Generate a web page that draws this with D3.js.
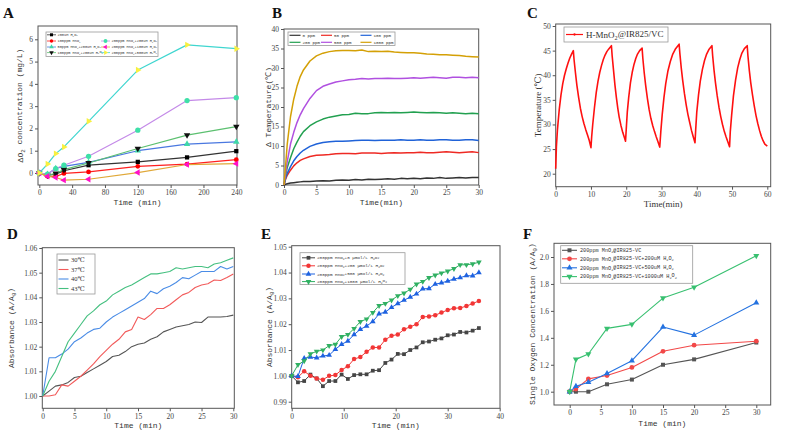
<!DOCTYPE html>
<html><head><meta charset="utf-8">
<script src="https://cdn.jsdelivr.net/npm/d3@7/dist/d3.min.js"></script>
<style>body{margin:0;background:#fff}</style>
</head><body>
<svg id="c" width="803" height="432" xmlns="http://www.w3.org/2000/svg"></svg>
<script>
// ---------- Panel A data ----------
const aTime = [0, 10, 20, 30, 60, 120, 180, 240];
const aH2O2 = [0, -0.1, -0.05, 0.1, 0.35, 0.5, 0.7, 0.98];
const aMn100 = [0, -0.15, -0.15, -0.02, 0.05, 0.3, 0.4, 0.6];
const aMn50H200 = [0, -0.05, 0.2, 0.3, 0.48, 1.0, 1.3, 1.4];
const aMn100H200 = [0, -0.1, -0.02, 0.15, 0.45, 1.1, 1.7, 2.08];
const aMn200H200 = [0, -0.05, 0.2, 0.35, 0.75, 1.92, 3.25, 3.38];
const aMn200H100 = [0, -0.15, -0.2, -0.32, -0.28, 0.02, 0.38, 0.42];
const aMn200H500 = [0, 0.4, 0.87, 1.17, 2.32, 4.62, 5.75, 5.58];
const aNames = ["200uM H_{2}O_{2}", "100ppm MnO_{2}", "50ppm MnO_{2}+200uM H_{2}O_{2}", "100ppm MnO_{2}+200uM H_{2}O_{2}",
  "200ppm MnO_{2}+200uM H_{2}O_{2}", "200ppm MnO_{2}+100uM H_{2}O_{2}", "200ppm MnO_{2}+500uM H_{2}O_{2}"];
const aXTicks = [0, 40, 80, 120, 160, 200, 240];
const aYTicks = [0, 1, 2, 3, 4, 5, 6];

// ---------- Panel B data ----------
const bTime = [0,0.25,0.5,1,1.5,2,2.5,3,4,5,6,7,8,9,10,11,12,13,14,15,16,17,18,19,20,21,22,23,24,25,26,27,28,29,30];
const b1000 = [0,5,10.5,17.5,22,25.3,27.8,29.5,31.8,33.1,33.8,34.2,34.4,34.5,34.5,34.4,34.6,34.2,34.3,34.2,34.3,34.1,34.0,33.9,33.9,33.8,33.6,33.5,33.4,33.4,33.3,33.2,33.0,32.9,32.8];
const b500 = [0,3,6,10.5,13.5,16,18,19.6,22.2,24.2,25.3,25.9,26.4,26.7,27.0,27.1,27.3,27.2,27.3,27.3,27.4,27.3,27.3,27.4,27.5,27.4,27.5,27.6,27.5,27.4,27.6,27.6,27.5,27.6,27.5];
const b200 = [0,2.5,4.5,7,9.3,11,12.5,13.7,15.2,16.2,16.9,17.4,17.7,18.0,18.1,18.4,18.3,18.3,18.5,18.6,18.5,18.6,18.5,18.6,18.7,18.6,18.5,18.6,18.5,18.4,18.5,18.4,18.3,18.4,18.3];
const b100 = [0,1.8,3,4.7,6.2,7.3,8.2,8.9,9.9,10.5,10.9,11.1,11.2,11.2,11.3,11.4,11.5,11.5,11.4,11.5,11.5,11.5,11.6,11.5,11.5,11.6,11.5,11.5,11.6,11.6,11.5,11.5,11.6,11.6,11.4];
const b50 = [0,1.5,2.5,3.8,4.9,5.7,6.3,6.7,7.3,7.6,7.7,7.8,8.0,8.1,8.1,8.0,8.2,8.2,8.2,8.1,8.2,8.3,8.2,8.3,8.3,8.4,8.3,8.3,8.4,8.5,8.4,8.3,8.4,8.5,8.3];
const b0 = [0,0.2,0.3,0.5,0.6,0.7,0.8,0.9,0.9,1.0,1.1,1.0,1.2,1.3,1.2,1.4,1.3,1.5,1.4,1.5,1.6,1.5,1.7,1.6,1.7,1.6,1.8,1.7,1.9,1.7,1.8,1.9,1.8,1.9,1.9];
const bNames = ["0 ppm", "50 ppm", "100 ppm", "200 ppm", "500 ppm", "1000 ppm"];
const bXTicks = [0, 5, 10, 15, 20, 25, 30];
const bYTicks = [0, 5, 10, 15, 20, 25, 30, 35, 40];

// ---------- Panel C data ----------
const cTime = [0,0.2,0.5,1,1.5,2,2.5,3,3.5,4,4.5,5,5.2,5.6,6,6.5,7,7.5,8,8.5,9,9.5,10,
  10.2,10.5,11,11.5,12,12.5,13,13.5,14,14.5,15,15.8,16,16.4,16.8,17.2,17.6,18,18.5,19,19.5,19.8,
  20,20.3,20.7,21.2,21.7,22.2,22.7,23.2,23.8,24.5,24.7,25.1,25.5,26,26.5,27,27.5,28,28.5,29,29.5,
  29.8,30.2,30.7,31.2,31.8,32.5,33.2,34,35,35.2,35.6,36,36.5,37,37.5,38,38.5,39,39.5,
  39.7,40,40.5,41,41.6,42.2,42.8,43.5,44.3,44.5,44.9,45.3,45.8,46.3,46.8,47.3,47.8,48.3,48.8,49.3,
  49.5,49.9,50.4,51,51.6,52.2,52.8,53.5,54.3,54.5,54.9,55.3,55.8,56.3,56.8,57.3,57.8,58.3,58.8,59.3,60];
const cTemp = [21,25.5,29,33,36,38.3,40,41.3,42.5,43.5,44.3,45,43.2,40.5,38,35.5,33.3,31.6,30.2,29,27.9,26.8,25.3,
  27.5,30,33.5,36.5,38.8,40.6,42,43.2,44.1,44.8,45.3,46,44,41,38,35.5,33.3,31.5,29.8,28.4,27.3,26.6,
  29,32.5,35.5,38.5,40.6,42.2,43.4,44.3,45,45.5,43.5,40.5,38,35.3,33,31.2,29.8,28.6,27.5,26.5,25.4,
  28.5,32,35.5,38.3,40.8,42.8,44.3,45.4,46.3,44.5,41.5,39,36.3,34,32,30.4,28.8,27.5,26.3,
  29,32.5,36,38.8,41.2,43,44.3,45.3,46,44,41,38.5,35.8,33.5,31.6,30,28.6,27.5,26.5,25.5,
  28.5,32,35.8,39,41.5,43.2,44.5,45.4,46,44,41,38.5,36,33.8,31.8,30.2,28.8,27.6,26.7,26,25.6];
const cName = "H-MnO_{2}@IR825/VC";
const cXTicks = [0, 10, 20, 30, 40, 50, 60];
const cYTicks = [20, 25, 30, 35, 40, 45, 50];

// ---------- Panel D data ----------
const dTime = [0,1,2,3,4,5,6,7,8,9,10,11,12,13,14,15,16,17,18,19,20,21,22,23,24,25,26,27,28,29,30];
const d30 = [1.000,1.002,1.004,1.0045,1.0055,1.0075,1.008,1.0095,1.011,1.0125,1.014,1.016,1.0165,1.018,1.020,1.021,1.0215,1.023,1.024,1.026,1.027,1.028,1.0285,1.029,1.030,1.0298,1.032,1.032,1.032,1.0322,1.0328];
const d37 = [1.000,1.000,1.0005,1.0045,1.004,1.006,1.008,1.0105,1.013,1.016,1.0185,1.021,1.023,1.026,1.027,1.032,1.031,1.033,1.0355,1.0355,1.037,1.039,1.041,1.042,1.044,1.045,1.0455,1.047,1.0468,1.048,1.0495];
const d40 = [1.000,1.0155,1.0155,1.017,1.019,1.022,1.0235,1.0255,1.027,1.0275,1.030,1.032,1.0335,1.035,1.0365,1.038,1.0395,1.0425,1.0415,1.0435,1.0445,1.046,1.048,1.0475,1.049,1.0505,1.0505,1.0505,1.0525,1.0515,1.0525];
const d43 = [1.000,1.006,1.010,1.016,1.022,1.0255,1.029,1.0325,1.0345,1.037,1.0385,1.041,1.0425,1.044,1.045,1.0465,1.048,1.0495,1.0495,1.050,1.0505,1.052,1.0515,1.052,1.0525,1.0525,1.052,1.0535,1.054,1.055,1.056];
const dNames = ["30℃", "37℃", "40℃", "43℃"];
const dXTicks = [0, 5, 10, 15, 20, 25, 30];
const dYTicks = [1.00, 1.01, 1.02, 1.03, 1.04, 1.05, 1.06];

// ---------- Panel E data ----------
const eTime = [0,1.2,2.4,3.6,4.8,6,7.2,8.4,9.6,10.8,12,13.2,14.4,15.6,16.8,18,19.2,20.4,21.6,22.8,24,25.2,26.4,27.6,28.8,30,31.2,32.4,33.6,34.8,36];
const eH0 = [1.000,0.9975,0.998,1.0005,0.999,0.996,0.998,0.998,1.0005,0.9988,1.0003,1.0006,1.0006,1.002,1.0022,1.005,1.0063,1.0085,1.0084,1.010,1.011,1.013,1.0133,1.014,1.0145,1.0157,1.016,1.017,1.0168,1.0175,1.0185];
const eH200 = [1.000,0.9995,1.0018,1.000,0.999,0.9985,1.000,1.0003,1.0023,1.0037,1.0065,1.0073,1.0093,1.011,1.011,1.014,1.0155,1.016,1.018,1.019,1.020,1.0228,1.023,1.0235,1.0245,1.0255,1.0262,1.0263,1.027,1.028,1.029];
const eH500 = [1.000,0.9998,1.0068,1.0073,1.007,1.0077,1.008,1.0103,1.0122,1.0135,1.016,1.018,1.0193,1.021,1.024,1.0247,1.0265,1.028,1.0293,1.0305,1.0317,1.0337,1.0338,1.0355,1.036,1.0367,1.0375,1.038,1.0388,1.0387,1.040];
const eH1000 = [1.000,1.0043,1.0058,1.0085,1.0095,1.010,1.0117,1.0122,1.0152,1.016,1.0183,1.021,1.022,1.0245,1.0272,1.028,1.0293,1.031,1.032,1.0335,1.0355,1.0365,1.038,1.039,1.0398,1.0405,1.0415,1.043,1.043,1.0433,1.044];
const eNames = ["200ppm MnO_{2}+0 μmol/L H_{2}O_{2}", "200ppm MnO_{2}+200 μmol/L H_{2}O_{2}", "200ppm MnO_{2}+500 μmol/L H_{2}O_{2}", "200ppm MnO_{2}+1000 μmol/L H_{2}O_{2}"];
const eXTicks = [0, 10, 20, 30, 40];
const eYTicks = [0.99, 1.00, 1.01, 1.02, 1.03, 1.04, 1.05];

// ---------- Panel F data ----------
const fTime = [0, 1, 3, 6, 10, 15, 20, 30];
const fBase = [1.0, 1.0, 1.0, 1.055, 1.09, 1.2, 1.24, 1.365];
const fH200 = [1.0, 1.02, 1.095, 1.12, 1.18, 1.3, 1.345, 1.375];
const fH500 = [1.0, 1.04, 1.07, 1.135, 1.23, 1.48, 1.42, 1.66];
const fH1000 = [1.0, 1.24, 1.28, 1.47, 1.5, 1.695, 1.775, 2.01];
const fNames = ["200ppm MnO_{2}@IR825-VC", "200ppm MnO_{2}@IR825-VC+200uM H_{2}O_{2}", "200ppm MnO_{2}@IR825-VC+500uM H_{2}O_{2}", "200ppm MnO_{2}@IR825-VC+1000uM H_{2}O_{2}"];
const fXTicks = [0, 5, 10, 15, 20, 25, 30];
const fYTicks = [1.0, 1.2, 1.4, 1.6, 1.8, 2.0];

// ================= drawing =================
const svg = d3.select('#c');
const SERIF = '"Liberation Serif", "DejaVu Serif", serif';
const MONO = '"Liberation Mono", "DejaVu Sans Mono", monospace';
const TXT = '#333';

function rich(sel, str) {
  const parts = str.split(/(_\{[^}]*\})/);
  let sub = false;
  parts.forEach(p => {
    if (!p) return;
    if (p.startsWith('_{')) {
      sel.append('tspan').attr('dy', '0.3em').attr('font-size', '70%').text(p.slice(2, -1));
      sub = true;
    } else {
      const t = sel.append('tspan').text(p);
      if (sub) { t.attr('dy', '-0.3em'); sub = false; }
    }
  });
  return sel;
}

function panel(o) {
  const g = svg.append('g');
  const x = d3.scaleLinear().domain(o.xd).range(o.xr);
  const y = d3.scaleLinear().domain(o.yd).range(o.yr);
  const [fx0, fy0, fx1, fy1] = o.frame;
  const xa = g.append('g').attr('transform', `translate(0,${fy1})`)
    .call(d3.axisBottom(x).tickValues(o.xt).tickSize(3).tickPadding(2).tickFormat(o.xf || d3.format('')));
  const ya = g.append('g').attr('transform', `translate(${fx0},0)`)
    .call(d3.axisLeft(y).tickValues(o.yt).tickSize(3).tickPadding(2).tickFormat(o.yf || d3.format('')));
  [xa, ya].forEach(a => {
    a.select('.domain').remove();
    a.selectAll('line').attr('stroke', '#555');
    a.selectAll('text').attr('font-family', o.tickFont || SERIF).attr('font-size', o.tickSize || 7.5).attr('fill', '#444');
  });
  g.append('rect').attr('x', fx0).attr('y', fy0).attr('width', fx1 - fx0).attr('height', fy1 - fy0)
    .attr('fill', 'none').attr('stroke', '#555').attr('stroke-width', 1);
  // titles
  rich(g.append('text').attr('x', (fx0 + fx1) / 2).attr('y', o.xtY).attr('text-anchor', 'middle')
    .attr('font-family', o.titleFont || MONO).attr('font-size', o.titleSize || 8).attr('fill', TXT), o.xTitle);
  rich(g.append('text').attr('transform', `translate(${o.ytX},${(fy0 + fy1) / 2}) rotate(-90)`).attr('text-anchor', 'middle')
    .attr('font-family', o.titleFont || MONO).attr('font-size', o.titleSize || 8).attr('fill', TXT), o.yTitle);
  svg.append('text').attr('x', o.letter[1]).attr('y', o.letter[2]).attr('font-family', SERIF)
    .attr('font-weight', 'bold').attr('font-size', 15).attr('fill', '#111').text(o.letter[0]);
  return { g, x, y };
}

function sym(type, size, rot) {
  return { d: d3.symbol().type(type).size(size)(), rot: rot || 0 };
}
function drawSeries(P, xs, ys, s) {
  const data = xs.map((t, i) => [t, ys[i]]);
  P.g.append('path').datum(data).attr('fill', 'none').attr('stroke', s.line).attr('stroke-width', s.lw || 1.2)
    .attr('stroke-linejoin', 'round')
    .attr('d', d3.line().x(d => P.x(d[0])).y(d => P.y(d[1])));
  if (s.marker) {
    P.g.append('g').selectAll('path').data(data).join('path')
      .attr('d', s.marker.d).attr('fill', s.mfill)
      .attr('transform', d => `translate(${P.x(d[0])},${P.y(d[1])}) rotate(${s.marker.rot})`);
  }
}
function legendItem(g, x, y, len, s, label, font, fsize, gap) {
  g.append('line').attr('x1', x).attr('x2', x + len).attr('y1', y).attr('y2', y).attr('stroke', s.line).attr('stroke-width', s.lw || 1.2);
  if (s.marker) g.append('path').attr('d', s.marker.d).attr('fill', s.mfill)
    .attr('transform', `translate(${x + len / 2},${y}) rotate(${s.marker.rot})`);
  rich(g.append('text').attr('x', x + len + (gap || 2)).attr('y', y).attr('dy', '0.35em')
    .attr('font-family', font).attr('font-size', fsize).attr('fill', TXT), label);
}
function legendBox(g, x0, y0, x1, y1) {
  g.append('rect').attr('x', x0).attr('y', y0).attr('width', x1 - x0).attr('height', y1 - y0)
    .attr('fill', '#fff').attr('stroke', '#999').attr('stroke-width', 0.8);
}

// ---------- A ----------
{
  const P = panel({ xd: [0, 240], xr: [39.3, 236.3], yd: [0, 6], yr: [173, 39.3], frame: [38, 26, 237, 185],
    xt: aXTicks, yt: aYTicks, xTitle: 'Time (min)', xtY: 205, yTitle: 'ΔO_{2} concentration (mg/L)', ytX: 23,
    letter: ['A', 3, 18] });
  const ms = 18;
  const styles = [
    { line: '#333', mfill: '#000', marker: sym(d3.symbolSquare, ms) },
    { line: '#ff2020', mfill: '#ff0000', marker: sym(d3.symbolCircle, ms) },
    { line: '#4a78e0', mfill: '#3ed8a8', marker: sym(d3.symbolTriangle, ms) },
    { line: '#5cc070', mfill: '#111', marker: sym(d3.symbolTriangle, ms, 180) },
    { line: '#c48ae8', mfill: '#3ee0a8', marker: sym(d3.symbolCircle, ms + 4) },
    { line: '#e0a838', mfill: '#ff10c8', marker: sym(d3.symbolTriangle, ms, -90) },
    { line: '#3fd6d0', mfill: '#f8f040', marker: sym(d3.symbolTriangle, ms, 90) }
  ];
  const series = [aH2O2, aMn100, aMn50H200, aMn100H200, aMn200H200, aMn200H100, aMn200H500];
  series.forEach((ys, i) => drawSeries(P, aTime, ys, styles[i]));
  const lg = svg.append('g');
  legendBox(lg, 46, 32, 158, 56.5);
  const rowsY = [34.8, 41, 47, 52.6];
  const small = [sym(d3.symbolSquare, 9), sym(d3.symbolCircle, 9), sym(d3.symbolTriangle, 9), sym(d3.symbolTriangle, 9, 180),
    sym(d3.symbolCircle, 12), sym(d3.symbolTriangle, 9, -90), sym(d3.symbolTriangle, 9, 90)];
  aNames.forEach((n, i) => {
    const s = Object.assign({}, styles[i], { marker: small[i], lw: 0.8 });
    const col = i < 4 ? 0 : 1, row = i < 4 ? i : i - 3;
    legendItem(lg, col ? 101 : 47, rowsY[row], 9, s, n, MONO, 3.6, 1.5);
  });
}

// ---------- B ----------
{
  const P = panel({ xd: [0, 30], xr: [284, 478.7], yd: [0, 40], yr: [185, 29], frame: [284, 29, 478.7, 185],
    xt: bXTicks, yt: bYTicks, xTitle: 'Time(min)', xtY: 205, yTitle: 'Δ Temperature(℃)', ytX: 271,
    letter: ['B', 272, 18] });
  const cols = ['#333333', '#ee2a24', '#1f62d8', '#22a050', '#b050e0', '#d4a006'];
  const series = [b0, b50, b100, b200, b500, b1000];
  series.forEach((ys, i) => drawSeries(P, bTime, ys, { line: cols[i], lw: 1.5 }));
  const lg = svg.append('g');
  legendBox(lg, 288, 32, 395, 45.5);
  const xs = [289.5, 321, 360.5], ys = [35.3, 42.3];
  bNames.forEach((n, i) => legendItem(lg, xs[i % 3], ys[Math.floor(i / 3)], 11, { line: cols[i], lw: 1.2 }, n, MONO, 4.2, 2));
}

// ---------- C ----------
{
  const P = panel({ xd: [0, 60], xr: [555.7, 767.3], yd: [20, 50], yr: [173.7, 26], frame: [555.7, 24, 770.7, 186.7],
    xt: cXTicks, yt: cYTicks, xTitle: 'Time(min)', xtY: 207, yTitle: 'Temperature (℃)', ytX: 541,
    titleFont: SERIF, titleSize: 9, letter: ['C', 527, 18] });
  drawSeries(P, cTime, cTemp, { line: '#ff1010', lw: 1.6 });
  const lg = svg.append('g');
  legendBox(lg, 564, 27, 668, 42);
  legendItem(lg, 566, 34.5, 17, { line: '#ff1010', lw: 1.2, mfill: '#ff1010', marker: sym(d3.symbolCircle, 4) }, cName, SERIF, 9, 3);
}

// ---------- D ----------
{
  const P = panel({ xd: [0, 30], xr: [42.7, 233.3], yd: [1.00, 1.06], yr: [396, 248], frame: [42.3, 247.7, 234.3, 408.3],
    xt: dXTicks, yt: dYTicks, yf: d3.format('.2f'), xTitle: 'Time (min)', xtY: 428, yTitle: 'Absorbance (A/A_{0})', ytX: 14,
    letter: ['D', 7, 239] });
  const cols = ['#555555', '#f25a5a', '#4a8ce6', '#45c080'];
  [d30, d37, d40, d43].forEach((ys, i) => drawSeries(P, dTime, ys, { line: cols[i], lw: 1.1 }));
  const lg = svg.append('g');
  legendBox(lg, 57, 254, 95, 294);
  const ys = [260, 269.5, 279, 288.5];
  dNames.forEach((n, i) => legendItem(lg, 58.5, ys[i], 10, { line: cols[i], lw: 1.1 }, n, SERIF, 6.5, 2.5));
}

// ---------- E ----------
{
  const P = panel({ xd: [0, 40], xr: [291.7, 499.7], yd: [0.99, 1.05], yr: [401.7, 246.7], frame: [291.7, 245.7, 500, 408.3],
    xt: eXTicks, yt: eYTicks, yf: d3.format('.2f'), xTitle: 'Time (min)', xtY: 428, yTitle: 'Absorbance (A/A_{0})', ytX: 272,
    letter: ['E', 261, 239] });
  const cols = ['#454545', '#f23636', '#1e62e0', '#30b062'];
  const mk = [sym(d3.symbolSquare, 14), sym(d3.symbolCircle, 16), sym(d3.symbolTriangle, 14), sym(d3.symbolTriangle, 14, 180)];
  [eH0, eH200, eH500, eH1000].forEach((ys, i) => drawSeries(P, eTime, ys, { line: cols[i], lw: 1, mfill: cols[i], marker: mk[i] }));
  const lg = svg.append('g');
  legendBox(lg, 300, 252.7, 405, 284.5);
  const ys = [257.8, 265.8, 274, 281.6];
  eNames.forEach((n, i) => legendItem(lg, 302, ys[i], 13, { line: cols[i], lw: 1, mfill: cols[i], marker: mk[i] }, n, MONO, 4.3, 2));
}

// ---------- F ----------
{
  const P = panel({ xd: [0, 30], xr: [569.7, 756.3], yd: [1.0, 2.0], yr: [391.7, 257], frame: [554, 243.3, 770.7, 405],
    xt: fXTicks, yt: fYTicks, yf: d3.format('.1f'), xTitle: 'Time (min)', xtY: 426, yTitle: 'Single Oxygen Concentration (A/A_{0})', ytX: 535,
    letter: ['F', 523, 239] });
  const cols = ['#555555', '#f24848', '#2472e0', '#38c070'];
  const mk = [sym(d3.symbolSquare, 16), sym(d3.symbolCircle, 18), sym(d3.symbolTriangle, 16), sym(d3.symbolTriangle, 16, 180)];
  [fBase, fH200, fH500, fH1000].forEach((ys, i) => drawSeries(P, fTime, ys, { line: cols[i], lw: 1.1, mfill: cols[i], marker: mk[i] }));
  const lg = svg.append('g');
  legendBox(lg, 560.7, 245.7, 692.7, 283.3);
  const ys = [250.3, 258.8, 267.8, 276.6];
  fNames.forEach((n, i) => legendItem(lg, 562, ys[i], 15, { line: cols[i], lw: 1.1, mfill: cols[i], marker: mk[i] }, n, MONO, 5.2, 3));
}
</script>
</body></html>
